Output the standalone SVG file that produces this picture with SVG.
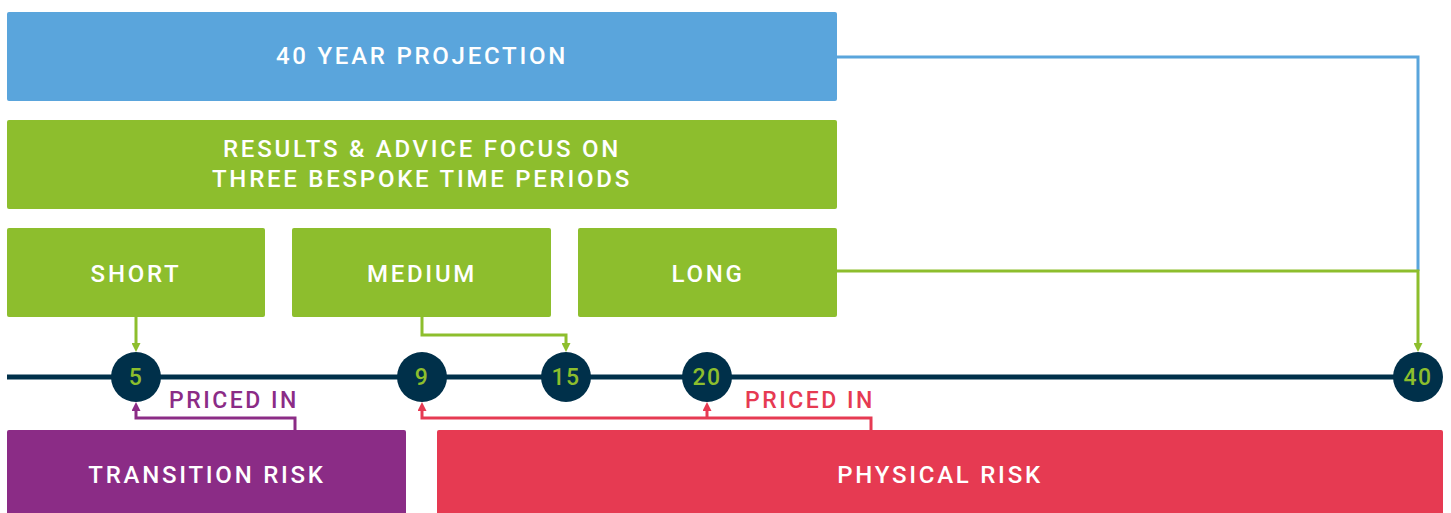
<svg xmlns="http://www.w3.org/2000/svg" width="1451" height="513" viewBox="0 0 1451 513">
  <style>
    .box-label { font-family: Roboto, "Liberation Sans", sans-serif; font-weight: 500; font-size: 24px; letter-spacing: 2.75px; fill: #ffffff; text-anchor: middle; }
    .year { font-family: Roboto, "Liberation Sans", sans-serif; font-weight: 500; font-size: 23px; letter-spacing: 1.5px; fill: #8dbe2d; text-anchor: middle; }
    .priced { font-family: Roboto, "Liberation Sans", sans-serif; font-weight: 500; font-size: 23px; letter-spacing: 2.5px; }
    .blue { fill: #5aa5dc; }
    .green { fill: #8dbe2d; }
    .purple { fill: #8b2c86; }
    .red { fill: #e63a52; }
    .dot { fill: #00304a; }
    .link { fill: none; stroke-width: 3; }
  </style>
  <defs>
    <marker id="arrow-green" viewBox="0 0 9 9" markerWidth="9" markerHeight="9" markerUnits="userSpaceOnUse" refX="0" refY="4.5" orient="auto">
      <path d="M0,0 L9,4.5 L0,9 Z" fill="#8dbe2d"/>
    </marker>
    <marker id="arrow-purple" viewBox="0 0 9 9" markerWidth="9" markerHeight="9" markerUnits="userSpaceOnUse" refX="0" refY="4.5" orient="auto">
      <path d="M0,0 L9,4.5 L0,9 Z" fill="#8b2c86"/>
    </marker>
    <marker id="arrow-red" viewBox="0 0 9 9" markerWidth="9" markerHeight="9" markerUnits="userSpaceOnUse" refX="0" refY="4.5" orient="auto">
      <path d="M0,0 L9,4.5 L0,9 Z" fill="#e63a52"/>
    </marker>
  </defs>

  <rect width="1451" height="513" fill="#ffffff"/>

  <!-- connectors -->
  <g id="connectors">
    <path class="link" stroke="#5aa5dc" d="M837,57 H1418 V271"/>
    <path class="link" stroke="#8dbe2d" d="M837,271 H1418 V343" marker-end="url(#arrow-green)"/>
    <path class="link" stroke="#8dbe2d" d="M136,316 V343" marker-end="url(#arrow-green)"/>
    <path class="link" stroke="#8dbe2d" d="M422,316 V335 H566 V343" marker-end="url(#arrow-green)"/>
    <path class="link" stroke="#8b2c86" d="M295,430 V418 H136 V411" marker-end="url(#arrow-purple)"/>
    <path class="link" stroke="#e63a52" d="M871,430 V418 H422 V411" marker-end="url(#arrow-red)"/>
    <path class="link" stroke="#e63a52" d="M707,418 V411" marker-end="url(#arrow-red)"/>
    <!-- timeline axis -->
    <line x1="7" y1="377" x2="1418" y2="377" stroke="#00304a" stroke-width="5"/>
  </g>

  <g id="projection">
    <rect class="blue" x="7" y="12" width="830" height="89" rx="2"/>
    <text class="box-label" x="422" y="64">40 YEAR PROJECTION</text>
  </g>

  <g id="focus">
    <rect class="green" x="7" y="120" width="830" height="89" rx="2"/>
    <text class="box-label" x="422" y="157">RESULTS &amp; ADVICE FOCUS ON</text>
    <text class="box-label" x="422" y="187">THREE BESPOKE TIME PERIODS</text>
  </g>

  <g id="short">
    <rect class="green" x="7" y="228" width="258" height="89" rx="2"/>
    <text class="box-label" x="136" y="282">SHORT</text>
  </g>

  <g id="medium">
    <rect class="green" x="292" y="228" width="259" height="89" rx="2"/>
    <text class="box-label" x="422" y="282">MEDIUM</text>
  </g>

  <g id="long">
    <rect class="green" x="578" y="228" width="259" height="89" rx="2"/>
    <text class="box-label" x="708" y="282">LONG</text>
  </g>

  <g id="year-5">
    <circle class="dot" cx="136" cy="377" r="25"/>
    <text class="year" x="136" y="385">5</text>
  </g>
  <g id="year-9">
    <circle class="dot" cx="422" cy="377" r="25"/>
    <text class="year" x="422" y="385">9</text>
  </g>
  <g id="year-15">
    <circle class="dot" cx="566" cy="377" r="25"/>
    <text class="year" x="566" y="385">15</text>
  </g>
  <g id="year-20">
    <circle class="dot" cx="707" cy="377" r="25"/>
    <text class="year" x="707" y="385">20</text>
  </g>
  <g id="year-40">
    <circle class="dot" cx="1418" cy="377" r="25"/>
    <text class="year" x="1418" y="385">40</text>
  </g>

  <g id="transition-risk">
    <rect class="purple" x="7" y="430" width="399" height="95" rx="2"/>
    <text class="box-label" x="207" y="483">TRANSITION RISK</text>
    <text class="priced purple" x="169" y="408">PRICED IN</text>
  </g>

  <g id="physical-risk">
    <rect class="red" x="437" y="430" width="1006" height="95" rx="2"/>
    <text class="box-label" x="940" y="483">PHYSICAL RISK</text>
    <text class="priced red" x="745" y="408">PRICED IN</text>
  </g>
</svg>
